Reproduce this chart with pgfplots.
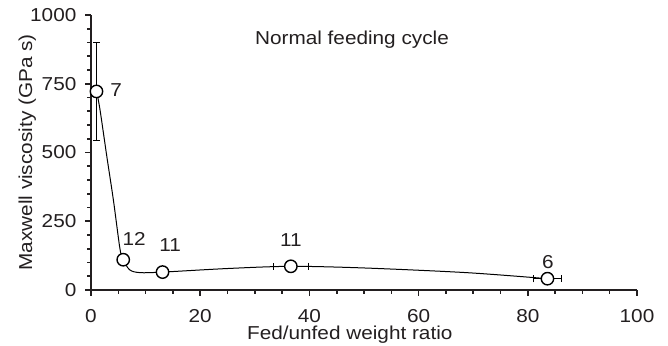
\documentclass[border=0pt]{standalone}
\usepackage{fontspec}
\setmainfont{Liberation Sans}[FakeStretch=1.11]
\usepackage{pgfplots}
\pgfplotsset{compat=1.18}
\definecolor{txt}{HTML}{231F20}
\newcommand{\lbl}{\fontsize{9.35}{11}\selectfont}
\begin{document}
\begin{tikzpicture}
\begin{axis}[
  width=273pt, height=137.5pt, scale only axis,
  xmin=0, xmax=100, ymin=0, ymax=1000,
  axis lines*=left,
  clip=false,
  xtick={0,20,...,100}, ytick={0,250,500,750,1000},
  minor x tick num=3, minor y tick num=4,
  tick align=outside,
  major tick length=2.8pt, minor tick length=2pt,
  axis line style={line width=0.95pt, txt},
  every tick/.style={txt, line width=0.8pt},
  tick label style={font=\lbl, text=txt},
  /pgf/number format/assume math mode=true,
  /pgf/number format/1000 sep={},
  xticklabel style={yshift=-3.3pt},
  yticklabel style={xshift=-1.0pt},
  xlabel={Fed/unfed weight ratio},
  ylabel={Maxwell viscosity (GPa s)},
  label style={font=\lbl, text=txt},
  xlabel style={at={(axis description cs:0.474,0)}, anchor=base, yshift=-25pt},
  ylabel style={at={(axis description cs:0,0.5)}, anchor=base, yshift=29.5pt},
]
% smooth fitted curve
\addplot[black, line width=0.5pt, smooth, tension=0.5] coordinates {
(1,725) (1.65,655) (2.9,485) (4.1,327) (5.3,150) (5.9,110) (7.1,73) (9.0,63) (13.1,65)
(25,78) (36.6,86) (50,80) (68.8,63) (83.6,41)
};
% error bars
\addplot[black, only marks, mark=*, mark options={draw=none, fill=none},
  error bars/.cd, y dir=both, y explicit, error mark=|,
  error bar style={line width=0.55pt, draw=black},
  error mark options={mark size=1.8pt, line width=0.55pt, draw=black}]
  coordinates { (1,722) +- (0,177) };
\addplot[black, only marks, mark=*, mark options={draw=none, fill=none},
  error bars/.cd, x dir=both, x explicit, error mark=|,
  error bar style={line width=0.55pt, draw=black},
  error mark options={mark size=1.8pt, line width=0.55pt, draw=black}]
  coordinates { (36.6,86) +- (3.2,0) (83.6,41) +- (2.6,0) };
% markers
\addplot[only marks, mark=*, mark size=3.1pt,
  mark options={fill=white, draw=black, line width=0.7pt}]
  coordinates { (1,722) (5.9,110) (13.1,65) (36.6,86) (83.6,41) };
\node[font=\lbl, text=txt] at (axis cs:4.6,727) {7};
\node[font=\lbl, text=txt] at (axis cs:7.9,185) {12};
\node[font=\lbl, text=txt] at (axis cs:14.5,164) {11};
\node[font=\lbl, text=txt] at (axis cs:36.6,182) {11};
\node[font=\lbl, text=txt] at (axis cs:83.7,102) {6};
\node[font=\lbl, text=txt, anchor=base] at (axis cs:47.8,893) {Normal feeding cycle};
\coordinate (bl) at (rel axis cs:-0.1667,-0.2036);
\coordinate (tr) at (rel axis cs:1.0568,1.0545);
\end{axis}
\pgfresetboundingbox
\useasboundingbox (bl) rectangle (tr);
\end{tikzpicture}
\end{document}
